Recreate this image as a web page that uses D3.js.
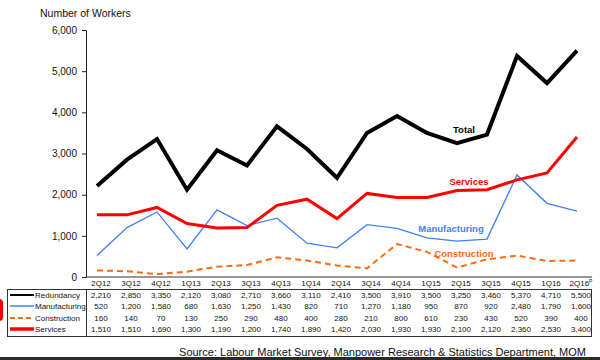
<!DOCTYPE html>
<html><head><meta charset="utf-8">
<script src="https://cdn.jsdelivr.net/npm/d3@7"></script>
<style>body{margin:0;background:#fff}svg{display:block;font-family:"Liberation Sans",Arial,sans-serif}</style>
</head><body><svg id="c" width="600" height="360"></svg>
<script>
const categories = ["2Q12","3Q12","4Q12","1Q13","2Q13","3Q13","4Q13","1Q14","2Q14","3Q14","4Q14","1Q15","2Q15","3Q15","4Q15","1Q16","2Q16"];
const redundancy = [2210,2850,3350,2120,3080,2710,3660,3110,2410,3500,3910,3500,3250,3460,5370,4710,5500];
const manufacturing = [520,1200,1580,680,1630,1250,1430,820,710,1270,1180,950,870,920,2480,1790,1600];
const construction = [160,140,70,130,250,290,480,400,280,210,800,610,230,430,520,390,400];
const services = [1510,1510,1690,1300,1190,1200,1740,1890,1420,2030,1930,1930,2100,2120,2360,2530,3400];
const yTicks = [0,1000,2000,3000,4000,5000,6000];
const seriesNames = ["Redundancy","Manufacturing","Construction","Services"];
const lineLabels = ["Total","Manufacturing","Construction","Services"];

const svg = d3.select("#c");
const x = d3.scalePoint().domain(categories).range([97,577]);
const xt = d3.scalePoint().domain(categories).range([101,581]);
const y = d3.scaleLinear().domain([0,6000]).range([277,30]);
const fmt = d3.format(",");

const styles = [
  {data: redundancy, color:"#000000", w:4, dash:null, lw:2},
  {data: manufacturing, color:"#3f7ff5", w:1.3, dash:null, lw:1.5},
  {data: construction, color:"#ff6a10", w:2, dash:"6,4", lw:2},
  {data: services, color:"#ff0000", w:3, dash:null, lw:3.5}
];

const ya = svg.append("g").attr("transform","translate(86,0)")
  .call(d3.axisLeft(y).tickValues(yTicks).tickFormat(fmt).tickSize(4).tickPadding(5));
ya.select(".domain").attr("stroke","#222");
ya.selectAll(".tick line").attr("stroke","#222");
ya.selectAll(".tick text").attr("font-size",10).attr("fill","#111").attr("font-family","Liberation Sans, Arial, sans-serif");

svg.append("line").attr("x1",86).attr("x2",592).attr("y1",277).attr("y2",277).attr("stroke","#333");

svg.append("text").attr("x",40).attr("y",17).attr("font-size",10.5).attr("fill","#111").text("Number of Workers");

const drawOrder = [2,1,3,0];
drawOrder.forEach(i=>{
  const s = styles[i];
  const line = d3.line().x((d,j)=>x(categories[j])).y(d=>y(d));
  svg.append("path").datum(s.data).attr("d",line).attr("fill","none")
    .attr("stroke",s.color).attr("stroke-width",s.w).attr("stroke-linejoin","miter")
    .attr("stroke-dasharray",s.dash);
});

const labelPos = [[464,133],[451,232],[464,257],[469,185]];
lineLabels.forEach((t,i)=>{
  svg.append("text").attr("x",labelPos[i][0]).attr("y",labelPos[i][1]).attr("text-anchor","middle")
    .attr("font-size",9.5).attr("font-weight","bold").attr("fill",i===0?"#000":styles[i].color).text(t);
});

const tTop = 289, tBot = 336, rowY = [298,309,321,332];
svg.append("rect").attr("x",7.5).attr("y",tTop+0.5).attr("width",584).attr("height",tBot-tTop).attr("fill","none").attr("stroke","#333");
svg.append("line").attr("x1",86.5).attr("x2",86.5).attr("y1",tTop).attr("y2",tBot).attr("stroke","#333");
categories.forEach((c,j)=>{
  const t = svg.append("text").attr("x",xt(c)).attr("y",286).attr("text-anchor","middle").attr("font-size",8).attr("fill","#111").text(c);
  if (j===categories.length-1) t.append("tspan").attr("font-size",5).attr("dy",-3).text("P");
});
styles.forEach((s,i)=>{
  svg.append("line").attr("x1",10).attr("x2",34).attr("y1",rowY[i]-3).attr("y2",rowY[i]-3)
    .attr("stroke",s.color).attr("stroke-width",s.lw).attr("stroke-dasharray",s.dash?"5,3":null);
  svg.append("text").attr("x",35).attr("y",rowY[i]).attr("font-size",8).attr("fill","#111").text(seriesNames[i]);
  s.data.forEach((v,j)=>{
    svg.append("text").attr("x",xt(categories[j])).attr("y",rowY[i]).attr("text-anchor","middle").attr("font-size",8).attr("fill","#111").text(fmt(v));
  });
});

svg.append("text").attr("x",586).attr("y",356).attr("text-anchor","end").attr("font-size",11).attr("fill","#111")
  .text("Source: Labour Market Survey, Manpower Research & Statistics Department, MOM");

svg.append("rect").attr("x",-6).attr("y",299).attr("width",9).attr("height",22).attr("rx",4).attr("fill","#e00");
svg.append("rect").attr("x",0).attr("y",357).attr("width",600).attr("height",3).attr("fill","#2a2a2a");
</script></body></html>
